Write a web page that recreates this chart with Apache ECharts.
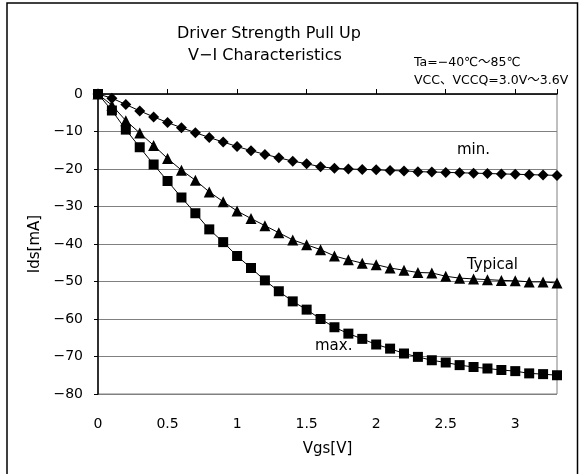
<!DOCTYPE html>
<html>
<head>
<meta charset="utf-8">
<script src="https://cdn.jsdelivr.net/npm/echarts@6/dist/echarts.min.js"></script>
<style>
  html, body { margin: 0; padding: 0; background: #fff; }
  #chart { width: 579px; height: 474px; }
</style>
</head>
<body>
<div id="chart"></div>
<script>
// Driver Strength Pull Up, V-I characteristics: Vgs [V] vs Ids [mA]

const vgs = [0, 0.1, 0.2, 0.3, 0.4, 0.5, 0.6, 0.7, 0.8, 0.9, 1.0, 1.1, 1.2, 1.3, 1.4, 1.5, 1.6,
  1.7, 1.8, 1.9, 2.0, 2.1, 2.2, 2.3, 2.4, 2.5, 2.6, 2.7, 2.8, 2.9, 3.0, 3.1, 3.2, 3.3];

const idsMin = [0, -1.1, -2.8, -4.5, -6.1, -7.6, -9.0, -10.3, -11.6, -12.8, -14.0, -15.1, -16.1,
  -17.0, -17.9, -18.6, -19.4, -19.8, -20.0, -20.1, -20.2, -20.4, -20.5, -20.7, -20.8, -20.9,
  -21.0, -21.1, -21.2, -21.3, -21.4, -21.5, -21.6, -21.7];

const idsTyp = [0, -3.0, -7.1, -10.4, -13.7, -17.2, -20.3, -23.0, -26.1, -28.7, -31.2, -33.2,
  -35.1, -37.0, -38.9, -40.2, -41.5, -43.2, -44.2, -45.1, -45.5, -46.4, -47.0, -47.6, -47.7,
  -48.6, -49.1, -49.3, -49.5, -49.7, -49.8, -50.1, -50.1, -50.4];

const idsMax = [0, -4.4, -9.5, -14.2, -18.8, -23.2, -27.6, -31.8, -36.1, -39.5, -43.2, -46.4,
  -49.7, -52.6, -55.3, -57.5, -60.0, -62.2, -63.9, -65.3, -66.8, -67.9, -69.2, -70.1, -71.0,
  -71.6, -72.3, -72.8, -73.2, -73.6, -73.9, -74.5, -74.7, -75.0];

const FONT = '"DejaVu Sans", "Noto Sans CJK JP", sans-serif';

function pairs(ys) {
  return vgs.map((x, i) => [x, ys[i]]);
}

function curve(name, data, symbol, size) {
  return {
    name: name,
    type: 'line',
    data: pairs(data),
    symbol: symbol,
    symbolSize: size,
    lineStyle: { color: '#000', width: 1 },
    itemStyle: { color: '#000' },
    animation: false,
  };
}

const chart = echarts.init(document.getElementById('chart'));

chart.setOption({
  backgroundColor: '#fff',
  textStyle: { fontFamily: FONT },
  grid: {
    left: 98, top: 94, right: 22, bottom: 80,
    show: true, borderColor: '#808080', borderWidth: 1,
  },
  xAxis: {
    type: 'value',
    min: 0, max: 3.3, interval: 0.5,
    name: 'Vgs[V]', nameLocation: 'middle', nameGap: 48,
    nameTextStyle: { fontSize: 15, color: '#000', fontFamily: FONT },
    axisLine: { show: true, lineStyle: { color: '#000', width: 1.5 } },
    axisTick: { show: true, inside: true, length: 5, lineStyle: { color: '#000' } },
    axisLabel: {
      fontSize: 14, color: '#000', margin: 23, fontFamily: FONT,
      formatter: v => (Math.abs(v - 3.3) < 1e-6 ? '' : String(v)),
    },
    splitLine: { show: false },
  },
  yAxis: {
    type: 'value',
    min: -80, max: 0, interval: 10,
    name: 'Ids[mA]', nameLocation: 'middle', nameGap: 55, nameRotate: 90,
    nameTextStyle: { fontSize: 15, color: '#000', fontFamily: FONT },
    axisLine: { show: true, lineStyle: { color: '#000', width: 1.5 } },
    axisTick: { show: true, length: 4, lineStyle: { color: '#000' } },
    axisLabel: {
      fontSize: 14, color: '#000', margin: 15, fontFamily: FONT,
      formatter: v => String(v).replace('-', '−'),
    },
    splitLine: { show: true, lineStyle: { color: '#808080', width: 1 } },
  },
  graphic: [
    { type: 'rect', shape: { x: 7, y: 3, width: 570.5, height: 500 },
      style: { fill: 'none', stroke: '#000', lineWidth: 1.5 }, silent: true },
    { type: 'text', x: 269, y: 26,
      style: { text: 'Driver Strength Pull Up', font: '16px ' + FONT, fill: '#000', align: 'center' } },
    { type: 'text', x: 265, y: 48,
      style: { text: 'V−I Characteristics', font: '16px ' + FONT, fill: '#000', align: 'center' } },
    { type: 'text', x: 414, y: 56,
      style: { text: 'Ta=−40℃〜85℃', font: '12.5px ' + FONT, fill: '#000' } },
    { type: 'text', x: 414, y: 74,
      style: { text: 'VCC、VCCQ=3.0V〜3.6V', font: '12.5px ' + FONT, fill: '#000' } },
    { type: 'text', x: 457, y: 143,
      style: { text: 'min.', font: '15px ' + FONT, fill: '#000' } },
    { type: 'text', x: 467, y: 258,
      style: { text: 'Typical', font: '15px ' + FONT, fill: '#000' } },
    { type: 'text', x: 315, y: 339,
      style: { text: 'max.', font: '15px ' + FONT, fill: '#000' } },
  ],
  series: [
    curve('min.', idsMin, 'diamond', 11),
    curve('Typical', idsTyp, 'triangle', 11),
    curve('max.', idsMax, 'rect', 10),
  ],
});
</script>
</body>
</html>
